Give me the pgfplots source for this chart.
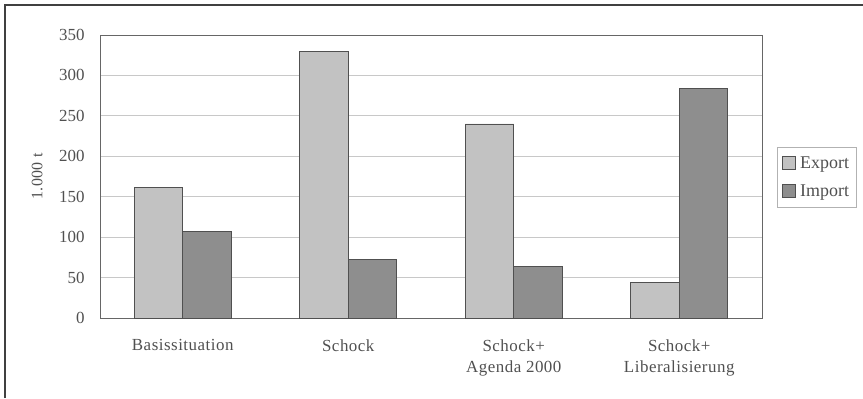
\documentclass[border=0pt]{standalone}
\usepackage{fontspec}
\setmainfont{Liberation Serif}
\newfontfamily\spaced[LetterSpace=3]{Liberation Serif}
\usepackage{pgfplots}
\pgfplotsset{compat=1.18}
\definecolor{expcol}{HTML}{C2C2C2}
\definecolor{impcol}{HTML}{8E8E8E}
\definecolor{edgecol}{HTML}{505050}
\definecolor{gridcol}{HTML}{C8C8C8}
\definecolor{txtcol}{HTML}{505050}
\begin{document}
\begin{tikzpicture}[x=1bp,y=1bp]
\useasboundingbox (0,0) rectangle (863,398);
\draw[line width=1.2bp, black!75] (5,0) -- (5,393) -- (863,393);
\begin{axis}[
  at={(100bp,80bp)}, anchor=south west,
  scale only axis, width=662bp, height=283bp,
  ymin=0, ymax=350, ytick={0,50,...,350},
  xmin=-0.5, xmax=3.5,
  xtick={0,1,2,3},
  xticklabels={Basissituation, Schock, Schock+\\Agenda 2000, Schock+\\Liberalisierung},
  xticklabel style={align=center, font=\spaced\fontsize{17}{21}\selectfont, text=txtcol, yshift=-14bp},
  extra x ticks={0.5,1.5,2.5},
  extra x tick labels={},
  extra x tick style={major tick length=4bp, tick style={black!60}},
  major x tick style={draw=none},
  ytick style={draw=none},
  yticklabel style={font=\fontsize{17}{19}\selectfont, text=txtcol, xshift=-12bp},
  /pgf/number format/assume math mode=true,
  ymajorgrids, grid style={gridcol, line width=0.8bp},
  axis line style={black!60, line width=0.8bp},
  ybar=0pt, bar width=48.5bp,
  ylabel={\spaced 1.000 t},
  ylabel style={font=\fontsize{16}{18}\selectfont, text=txtcol, at={(axis description cs:-0.095,0.5)}, anchor=center},
  legend style={at={(rel axis cs:1.023,0.604)}, anchor=north west, draw=black!30, font=\fontsize{18}{20}\selectfont, text=txtcol, row sep=11bp, inner xsep=5bp, inner ysep=7bp},
  legend image code/.code={\draw[#1] (0bp,-6.5bp) rectangle (13bp,6.5bp); \path (15bp,0bp);},
  legend cell align=left,
]
\addplot[fill=expcol, draw=edgecol, line width=0.8bp] coordinates {(0,161) (1,330) (2,240) (3,44.5)};
\addplot[fill=impcol, draw=edgecol, line width=0.8bp] coordinates {(0,107) (1,72) (2,64) (3,284)};
\legend{Export, Import}
\end{axis}
\end{tikzpicture}
\end{document}
